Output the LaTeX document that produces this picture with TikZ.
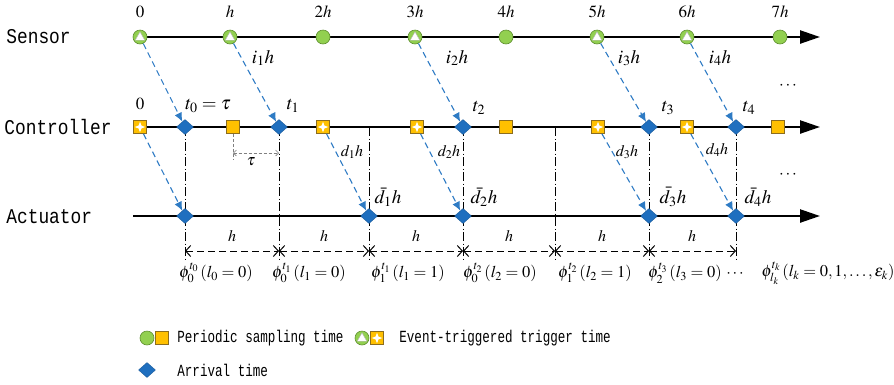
\documentclass[tikz,border=0pt]{standalone}
\usepackage{mathptmx}
\usepackage{fontspec}
\setmainfont{Liberation Serif}
\newfontfamily\lanefont[FakeStretch=0.85]{Liberation Mono}
\newfontfamily\legfont[FakeStretch=0.74]{Liberation Mono}
\usetikzlibrary{arrows.meta,shapes.geometric,backgrounds,positioning,calc}
\tikzset{every picture/.style={line width=0.75pt}}

\definecolor{sampgreen}{HTML}{92D050}
\definecolor{sampgreenline}{HTML}{5F8F2F}
\definecolor{sampyellow}{HTML}{FFC000}
\definecolor{sampyellowline}{HTML}{8C6D1F}
\definecolor{arrblue}{HTML}{1F6FBF}
\definecolor{netblue}{HTML}{2E7BC4}

\tikzset{
  sdot/.style={circle, fill=sampgreen, draw=sampgreenline, line width=0.6pt, minimum size=14pt, inner sep=0pt},
  strig/.style={sdot, path picture={
      \filldraw[fill=white, draw=gray!60, line width=0.4pt]
        ([yshift=5.2pt]path picture bounding box.center) --
        ([xshift=-4.8pt,yshift=-3.2pt]path picture bounding box.center) --
        ([xshift=4.8pt,yshift=-3.2pt]path picture bounding box.center) -- cycle;}},
  csq/.style={rectangle, fill=sampyellow, draw=sampyellowline, line width=0.6pt, minimum size=13pt, inner sep=0pt},
  ctrig/.style={csq, path picture={
      \fill[white]
        ([yshift=5.4pt]path picture bounding box.center) --
        ([xshift=1.4pt,yshift=1.4pt]path picture bounding box.center) --
        ([xshift=5.4pt]path picture bounding box.center) --
        ([xshift=1.4pt,yshift=-1.4pt]path picture bounding box.center) --
        ([yshift=-5.4pt]path picture bounding box.center) --
        ([xshift=-1.4pt,yshift=-1.4pt]path picture bounding box.center) --
        ([xshift=-5.4pt]path picture bounding box.center) --
        ([xshift=-1.4pt,yshift=1.4pt]path picture bounding box.center) -- cycle;}},
  arr/.style={diamond, fill=arrblue, draw=arrblue!80!black, line width=0.4pt, minimum width=17pt, minimum height=15pt, inner sep=0pt},
  axis/.style={line width=2.4pt, -{Triangle[length=20pt,width=13pt]}},
  delay/.style={netblue, line width=1.1pt, dash pattern=on 6pt off 4pt, -{Latex[length=9pt,width=8pt]}},
  guide/.style={line width=0.8pt, dash pattern=on 9pt off 2.5pt on 1pt off 2.5pt},
  span/.style={line width=1pt, dash pattern=on 7pt off 4pt, {Straight Barb[length=5pt,width=11pt]}-{Straight Barb[length=5pt,width=11pt]}},
  lane/.style={font=\lanefont\fontsize{21}{25}\selectfont, anchor=west, inner sep=0pt},
  leg/.style={font=\legfont\fontsize{17}{20}\selectfont, anchor=west, inner sep=0pt},
  toplab/.style={font=\fontsize{17}{20}\selectfont, inner sep=0pt},
  biglab/.style={font=\fontsize{19}{22}\selectfont, inner sep=0pt},
  smalllab/.style={font=\fontsize{16}{19}\selectfont, inner sep=0pt},
  philab/.style={font=\fontsize{16.5}{19}\selectfont, inner sep=0pt},
}

\begin{document}
\begin{tikzpicture}[x=1pt,y=-1pt]
    \useasboundingbox (0,0) rectangle (894,384);

    % lane names
    \node[lane] (sensor) at (6,37) {Sensor};
    \node[lane] (controller) at (4,127) {Controller};
    \node[lane] (actuator) at (6,217) {Actuator};

    % axis ends
    \coordinate (sL) at (133,37);  \coordinate (sR) at (820,37);
    \coordinate (cL) at (133,127); \coordinate (cR) at (820,127);
    \coordinate (aL) at (133,216); \coordinate (aR) at (820,216);

    % sensor samples
    \node[strig] (s0) at (140,37) {};
    \node[strig] (s1) at (230,37) {};
    \node[sdot]  (s2) at (323,37) {};
    \node[strig] (s3) at (415,37) {};
    \node[sdot]  (s4) at (506,37) {};
    \node[strig] (s5) at (597,37) {};
    \node[strig] (s6) at (687,37) {};
    \node[sdot]  (s7) at (780,37) {};

    % sample times
    \node[toplab] (n0) at (140,12) {$0$};
    \node[toplab] (n1) at (230,12) {$h$};
    \node[toplab] (n2) at (323,12) {$2h$};
    \node[toplab] (n3) at (415,12) {$3h$};
    \node[toplab] (n4) at (506,12) {$4h$};
    \node[toplab] (n5) at (597,12) {$5h$};
    \node[toplab] (n6) at (687,12) {$6h$};
    \node[toplab] (n7) at (780,12) {$7h$};

    % controller
    \node[ctrig] (c0) at (140,127) {};
    \node[arr]   (d0) at (185,127) {};
    \node[csq]   (c1) at (233,127) {};
    \node[arr]   (d1) at (279,127) {};
    \node[ctrig] (c2) at (323,127) {};
    \coordinate  (k1) at (369,127);
    \node[ctrig] (c3) at (417,127) {};
    \node[arr]   (d2) at (463,127) {};
    \node[csq]   (c4) at (506,127) {};
    \coordinate  (k2) at (555,127);
    \node[ctrig] (c5) at (598,127) {};
    \node[arr]   (d3) at (649,127) {};
    \node[ctrig] (c6) at (687,127) {};
    \node[arr]   (d4) at (736,127) {};
    \node[csq]   (c7) at (778,127) {};

    \node[toplab] (z0) at (140,104) {$0$};
    \node[biglab] (t0) at (208,106) {$t_0=\tau$};
    \node[biglab] (t1) at (293,106) {$t_1$};
    \node[biglab] (t2) at (479,108) {$t_2$};
    \node[biglab] (t3) at (668,108) {$t_3$};
    \node[biglab] (t4) at (749,108) {$t_4$};
    \node[toplab] (dotsc) at (788,86) {$\cdots$};

    % actuator
    \node[arr] (a0) at (185,216) {};
    \node[arr] (a1) at (369,216) {};
    \node[arr] (a2) at (463,216) {};
    \node[arr] (a3) at (649,216) {};
    \node[arr] (a4) at (736,216) {};

    \node[biglab] (b1) at (388,197) {$\bar{d}_1h$};
    \node[biglab] (b2) at (484,197) {$\bar{d}_2h$};
    \node[biglab] (b3) at (673,197) {$\bar{d}_3h$};
    \node[biglab] (b4) at (758,197) {$\bar{d}_4h$};
    \node[toplab] (dotsa) at (788,175) {$\cdots$};

    % network delays
    \draw[delay] (s0) -- (d0);
    \draw[delay] (s1) -- (d1);
    \draw[delay] (s3) -- (d2);
    \draw[delay] (s5) -- (d3);
    \draw[delay] (s6) -- (d4);
    \draw[delay] (c0) -- (a0);
    \draw[delay] (c2) -- (a1);
    \draw[delay] (c3) -- (a2);
    \draw[delay] (c5) -- (a3);
    \draw[delay] (c6) -- (a4);

    \node[biglab] (i1) at (263,58) {$i_1h$};
    \node[biglab] (i2) at (457,58) {$i_2h$};
    \node[biglab] (i3) at (629,58) {$i_3h$};
    \node[biglab] (i4) at (720,58) {$i_4h$};
    \node[smalllab] (e1) at (352,152) {$d_1h$};
    \node[smalllab] (e2) at (449,152) {$d_2h$};
    \node[smalllab] (e3) at (627,152) {$d_3h$};
    \node[smalllab] (e4) at (717,150) {$d_4h$};

    % delay tau
    \coordinate (tauL) at (233,153);
    \coordinate (tauR) at (279,153);
    \draw[gray, line width=0.5pt, densely dashed] (c1.south) -- (233,159);
    \draw[gray, line width=0.6pt, densely dashed, {Straight Barb[length=3pt,width=6pt]}-{Straight Barb[length=3pt,width=6pt]}] (tauL) -- (tauR);
    \node[smalllab] (tau) at (251,162) {$\tau$};

    % holding intervals
    \coordinate (m0) at (185,251); \coordinate (m1) at (279,251);
    \coordinate (m2) at (369,251); \coordinate (m3) at (463,251);
    \coordinate (m4) at (555,251); \coordinate (m5) at (649,251);
    \coordinate (m6) at (736,251);
    \draw[span] (m0) -- (m1);
    \draw[span] (m1) -- (m2);
    \draw[span] (m2) -- (m3);
    \draw[span] (m3) -- (m4);
    \draw[span] (m4) -- (m5);
    \draw[span] (m5) -- (m6);

    \node[smalllab] (h1) at (232,236) {$h$};
    \node[smalllab] (h2) at (324,236) {$h$};
    \node[smalllab] (h3) at (416,236) {$h$};
    \node[smalllab] (h4) at (509,236) {$h$};
    \node[smalllab] (h5) at (602,236) {$h$};
    \node[smalllab] (h6) at (692,236) {$h$};

    \node[philab] (p0) at (216,273) {$\phi_0^{t_0}\,(l_0=0)$};
    \node[philab] (p1) at (309,273) {$\phi_0^{t_1}\,(l_1=0)$};
    \node[philab] (p2) at (408,273) {$\phi_1^{t_1}\,(l_1=1)$};
    \node[philab] (p3) at (500,273) {$\phi_0^{t_2}\,(l_2=0)$};
    \node[philab] (p4) at (595,273) {$\phi_1^{t_2}\,(l_2=1)$};
    \node[philab] (p5) at (685,273) {$\phi_2^{t_3}\,(l_3=0)$};
    \node[philab] (pd) at (735,274) {$\cdots$};
    \node[philab] (pk) at (828,273) {$\phi_{l_k}^{t_k}\,(l_k=0,1,\ldots,\varepsilon_k)$};

    % legend
    \node[sdot]  (gs) at (147,338) {};
    \node[csq]   (gc) at (162,338) {};
    \node[leg]   (gt1) at (177,338) {Periodic sampling time};
    \node[strig] (es) at (362,338) {};
    \node[ctrig] (ec) at (377,338) {};
    \node[leg]   (gt2) at (399,338) {Event-triggered trigger time};
    \node[arr]   (ga) at (147,370) {};
    \node[leg]   (gt3) at (177,370) {Arrival time};

    % axes and guides behind the marks
    \begin{scope}[on background layer]
      \draw[axis] (sL) -- (sR);
      \draw[axis] (cL) -- (cR);
      \draw[axis] (aL) -- (aR);
      \draw[guide] (d0.center) -- ++(0,132);
      \draw[guide] (d1.center) -- ++(0,132);
      \draw[guide] (k1) -- ++(0,132);
      \draw[guide] (d2.center) -- ++(0,132);
      \draw[guide] (k2) -- ++(0,132);
      \draw[guide] (d3.center) -- ++(0,132);
      \draw[guide] (d4.center) -- ++(0,132);
    \end{scope}
\end{tikzpicture}
\end{document}
